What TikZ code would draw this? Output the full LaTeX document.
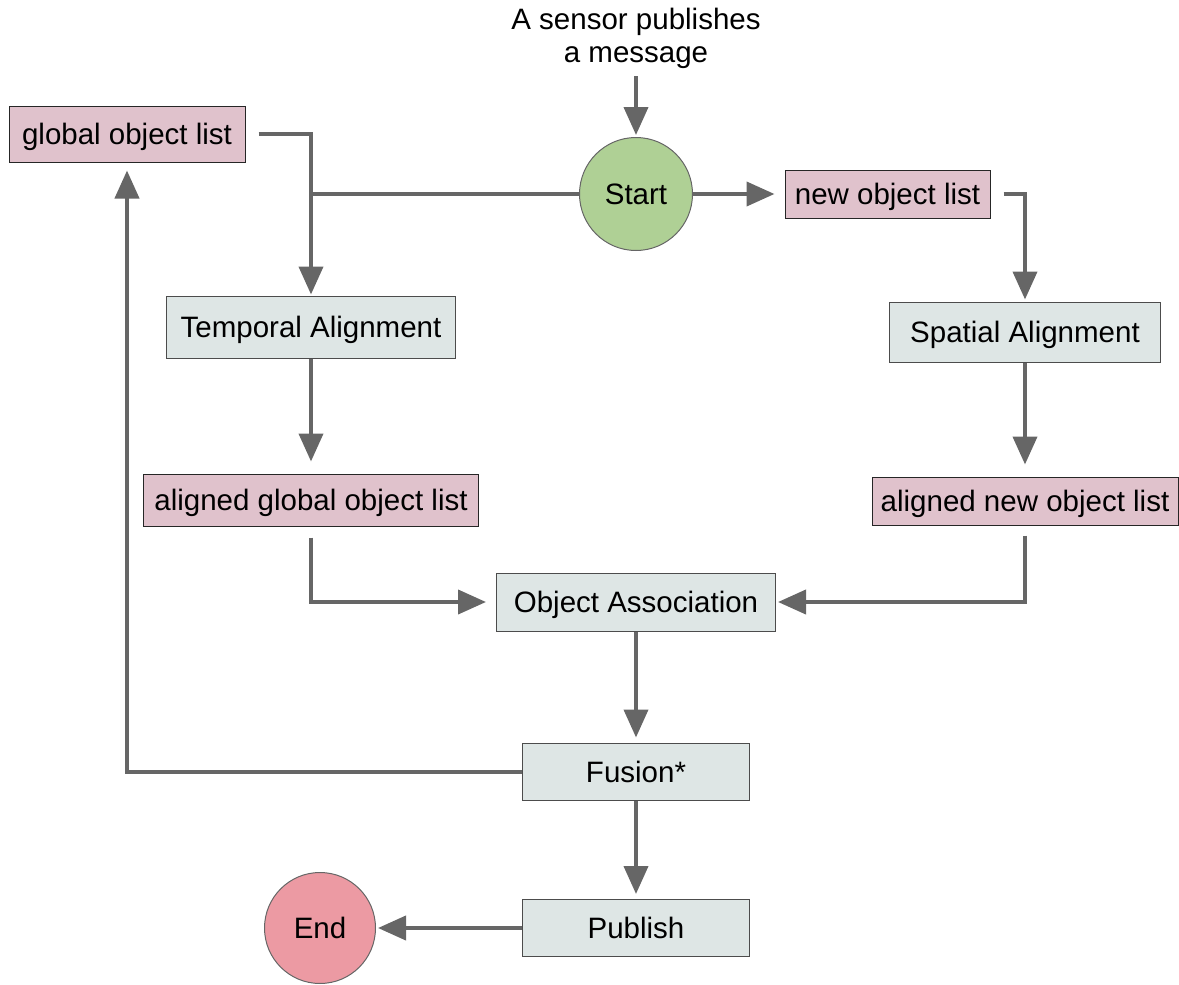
\documentclass[tikz,border=0pt]{standalone}
\usepackage{fontspec}
\setmainfont{Liberation Sans}
\usetikzlibrary{arrows.meta,positioning}
\definecolor{listfill}{HTML}{E0C2CC}
\definecolor{stepfill}{HTML}{DEE6E5}
\definecolor{startfill}{HTML}{AFD095}
\definecolor{endfill}{HTML}{EC9AA3}
\definecolor{linkgray}{HTML}{666666}
\tikzset{
  base/.style={font=\fontsize{29.5}{34}\selectfont, text=black, inner sep=0pt},
  label/.style={base, text height=21pt, text depth=0pt},
  listbox/.style={label, draw=black!85, line width=1pt, fill=listfill, rectangle},
  stepbox/.style={label, draw=black!70, line width=1pt, fill=stepfill, rectangle},
  terminal/.style={label, draw=black!60, line width=1pt, circle},
  link/.style={draw=linkgray, line width=4pt},
  arr/.style={link, -{Triangle[length=28pt,width=24pt]}},
}
\begin{document}
\begin{tikzpicture}[x=1pt,y=-1pt]
\useasboundingbox (0,0) rectangle (1179,985);

% trigger text
\node[base, align=center] (intro) at (636,38) {A sensor publishes\\[-1pt]a message};

% terminals
\node[terminal, fill=startfill, minimum size=113pt] (start) at (636,194) {Start};
\node[terminal, fill=endfill, minimum size=111pt] (end) at (320,928) {End};

% object lists
\node[listbox, minimum width=236pt, minimum height=56pt] (glob) at (127,134) {global object list};
\node[listbox, minimum width=205pt, minimum height=48pt] (new) at (887.5,194) {new object list};
\node[listbox, minimum width=335pt, minimum height=52pt] (aglob) at (311,500) {aligned global object list};
\node[listbox, minimum width=306pt, minimum height=48pt] (anew) at (1025,501) {aligned new object list};

% processing steps
\node[stepbox, minimum width=289pt, minimum height=62pt] (temp) at (311,327) {Temporal Alignment};
\node[stepbox, minimum width=271pt, minimum height=60pt] (spat) at (1025,332) {Spatial Alignment};
\node[stepbox, minimum width=279pt, minimum height=58pt] (oa) at (636,602) {Object Association};
\node[stepbox, minimum width=227pt, minimum height=57pt] (fus) at (636,771.5) {Fusion*};
\node[stepbox, minimum width=227pt, minimum height=57pt] (pub) at (636,928) {Publish};

% connectors
\draw[arr, shorten <=8pt, shorten >=2pt] (intro.south) -- (start.north);
\draw[arr, shorten <=13pt, shorten >=1pt] (glob.east) -| (temp.north);
\draw[link] (start.west) -- (start.west -| temp.north);
\draw[arr, shorten >=10pt] (start.east) -- (new.west);
\draw[arr, shorten <=13pt, shorten >=2pt] (new.east) -| (spat.north);
\draw[arr, shorten >=12pt] (temp.south) -- (aglob.north);
\draw[arr, shorten >=12pt] (spat.south) -- (anew.north);
\draw[arr, shorten <=11pt, shorten >=10pt] (aglob.south) |- (oa.west);
\draw[arr, shorten <=10pt, shorten >=2pt] (anew.south) |- (oa.east);
\draw[arr, shorten >=5pt] (oa.south) -- (fus.north);
\draw[arr, shorten >=8pt] (fus.west) -| (glob.south);
\draw[arr, shorten >=5pt] (fus.south) -- (pub.north);
\draw[arr, shorten >=2pt] (pub.west) -- (end.east);
\end{tikzpicture}
\end{document}
